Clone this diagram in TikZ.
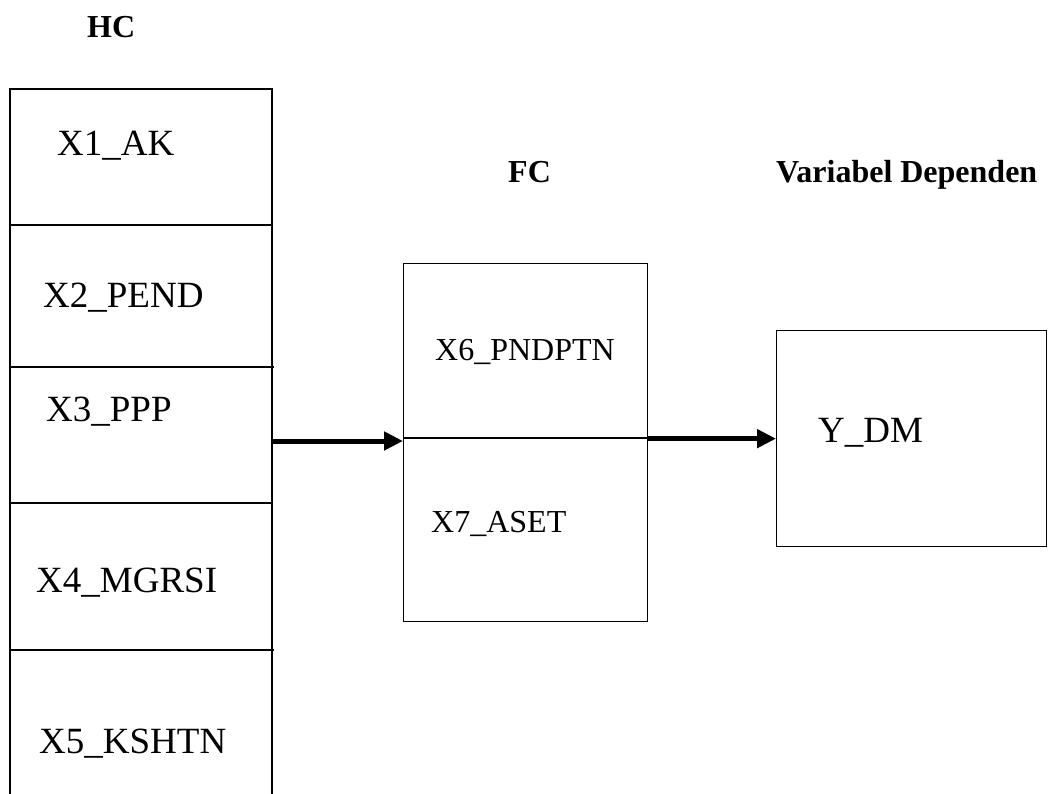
\documentclass[tikz,border=0pt]{standalone}
\usepackage{fontspec}
\setmainfont{Liberation Serif}
\usetikzlibrary{arrows.meta}
\begin{document}
\begin{tikzpicture}[x=1pt,y=-1pt,
  thin line/.style={line width=1.3pt,black},
  lbl/.style={anchor=base west,inner sep=0pt,font=\fontsize{37}{40}\selectfont},
  midlbl/.style={anchor=base west,inner sep=0pt,font=\fontsize{32}{35}\selectfont},
  hdr/.style={anchor=base west,inner sep=0pt,font=\fontsize{32}{35}\selectfont\bfseries},
  boxnode/.style={draw,line width=1.3pt,inner sep=0pt,anchor=north west},
  bigarrow/.style={line width=5pt,-{Triangle[length=19pt,width=18pt]}}
]
\useasboundingbox (0,0) rectangle (1048,794);
% left column (open at bottom)
\draw[thin line] (10,794) -- (10,89) -- (272,89) -- (272,794);
\draw[thin line] (10,225) -- (272,225);
\draw[thin line] (10,367) -- (274,367);
\draw[thin line] (10,503) -- (272,503);
\draw[thin line] (10,650) -- (274,650);
\coordinate (colR) at (272,441);
% headers
\node[hdr] (hc) at (87,38) {HC};
\node[hdr] (fch) at (508,183) {FC};
\node[hdr] (vd) at (776,183) {Variabel Dependen};
% left column labels
\node[lbl] (x1) at (57,156) {X1\_AK};
\node[lbl] (x2) at (43,307) {X2\_PEND};
\node[lbl] (x3) at (46,421) {X3\_PPP};
\node[lbl] (x4) at (36,592) {X4\_MGRSI};
\node[lbl] (x5) at (39,753) {X5\_KSHTN};
% middle box
\node[boxnode,minimum width=244pt,minimum height=358pt] (fc) at (403,263) {};
\draw[thin line] (fc.west |- 0,438) -- (fc.east |- 0,438);
\node[midlbl] (x6) at (435,360) {X6\_PNDPTN};
\node[midlbl] (x7) at (431,532) {X7\_ASET};
% right box
\node[boxnode,minimum width=270pt,minimum height=216pt] (ydm) at (776,330) {};
\node[lbl] (y) at (818,442) {Y\_DM};
% arrows
\draw[bigarrow] (colR) -- (fc.west |- colR);
\draw[bigarrow] (fc.east |- ydm.west) -- (ydm.west);
\end{tikzpicture}
\end{document}
